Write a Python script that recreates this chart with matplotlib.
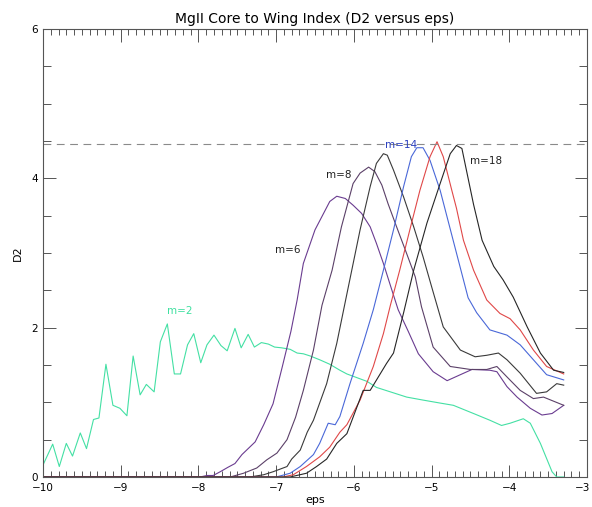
import matplotlib
matplotlib.use("Agg")
import matplotlib.pyplot as plt
from matplotlib.ticker import MultipleLocator, FuncFormatter

# ---------------- data ----------------
m2_eps = [-10.00, -9.875, -9.79, -9.70, -9.62, -9.52, -9.44, -9.35, -9.28, -9.19, -9.10, -9.01, -8.92,
          -8.84, -8.75, -8.67, -8.57, -8.49, -8.40, -8.31, -8.23, -8.14, -8.06, -7.97, -7.89, -7.80,
          -7.71, -7.63, -7.53, -7.45, -7.36, -7.28, -7.19, -7.10, -7.02, -6.93, -6.82, -6.73, -6.65,
          -6.56, -6.44, -6.31, -6.18, -6.09, -5.96, -5.83, -5.71, -5.53, -5.32, -5.11, -4.89, -4.72,
          -4.46, -4.25, -4.10, -3.99, -3.82, -3.73, -3.60, -3.45, -3.39, -3.30]
m2_d2 = [0.16, 0.44, 0.14, 0.45, 0.28, 0.59, 0.38, 0.77, 0.79, 1.51, 0.96, 0.92, 0.82,
         1.62, 1.10, 1.24, 1.14, 1.81, 2.05, 1.38, 1.38, 1.77, 1.92, 1.53, 1.77, 1.90,
         1.76, 1.69, 1.99, 1.73, 1.91, 1.74, 1.80, 1.78, 1.74, 1.73, 1.71, 1.66, 1.65,
         1.62, 1.57, 1.51, 1.43, 1.38, 1.33, 1.28, 1.20, 1.14, 1.07, 1.03, 0.99, 0.96,
         0.85, 0.76, 0.69, 0.72, 0.78, 0.72, 0.45, 0.07, 0.0, 0.0]

m6_eps = [-10.0, -7.98, -7.89, -7.81, -7.72, -7.62, -7.53, -7.44, -7.36, -7.27, -7.16, -7.04, -6.92,
          -6.81, -6.73, -6.65, -6.50, -6.39, -6.31, -6.22, -6.11, -6.01, -5.90, -5.79, -5.71, -5.62,
          -5.51, -5.43, -5.30, -5.17, -4.98, -4.80, -4.63, -4.48, -4.25, -4.16, -4.03, -3.90, -3.73,
          -3.58, -3.45, -3.30]
m6_d2 = [0.0, 0.0, 0.02, 0.02, 0.07, 0.13, 0.18, 0.30, 0.38, 0.47, 0.70, 0.98, 1.48,
         1.95, 2.37, 2.86, 3.31, 3.53, 3.69, 3.76, 3.73, 3.64, 3.53, 3.35, 3.13, 2.86,
         2.50, 2.24, 1.95, 1.65, 1.41, 1.29, 1.37, 1.44, 1.43, 1.41, 1.21, 1.07, 0.92,
         0.83, 0.85, 0.96]

m8_eps = [-10.0, -7.59, -7.42, -7.25, -7.12, -6.99, -6.86, -6.75, -6.65, -6.52, -6.41, -6.28, -6.16,
          -6.01, -5.92, -5.81, -5.73, -5.64, -5.56, -5.45, -5.32, -5.21, -5.13, -4.98, -4.76, -4.50,
          -4.29, -4.16, -4.03, -3.86, -3.69, -3.56, -3.30]
m8_d2 = [0.0, 0.0, 0.05, 0.12, 0.23, 0.32, 0.50, 0.80, 1.16, 1.70, 2.30, 2.77, 3.35,
         3.93, 4.07, 4.15, 4.09, 3.91, 3.66, 3.35, 2.99, 2.68, 2.28, 1.74, 1.48, 1.44,
         1.44, 1.48, 1.34, 1.16, 1.05, 1.07, 0.96]

m10_eps = [-10.0, -7.34, -7.16, -7.04, -6.86, -6.80, -6.69, -6.60, -6.52, -6.35, -6.22, -6.10, -5.92,
           -5.79, -5.71, -5.62, -5.57, -5.49, -5.36, -5.23, -5.11, -5.00, -4.85, -4.63, -4.44, -4.29,
           -4.14, -4.03, -3.86, -3.65, -3.52, -3.39, -3.30]
m10_d2 = [0.0, 0.0, 0.03, 0.07, 0.14, 0.24, 0.36, 0.60, 0.76, 1.25, 1.79, 2.40, 3.31,
          3.89, 4.20, 4.33, 4.31, 4.11, 3.75, 3.35, 2.95, 2.55, 2.01, 1.70, 1.61, 1.63,
          1.66, 1.57, 1.39, 1.12, 1.14, 1.25, 1.23]

m14_eps = [-10.0, -7.00, -6.82, -6.69, -6.52, -6.44, -6.33, -6.24, -6.18, -6.05, -5.88, -5.75, -5.62,
           -5.49, -5.36, -5.26, -5.19, -5.11, -5.02, -4.89, -4.76, -4.63, -4.53, -4.42, -4.25, -4.03,
           -3.86, -3.69, -3.52, -3.30]
m14_d2 = [0.0, 0.0, 0.05, 0.14, 0.30, 0.45, 0.72, 0.70, 0.81, 1.25, 1.79, 2.24, 2.77,
          3.31, 3.89, 4.29, 4.41, 4.41, 4.24, 3.84, 3.32, 2.80, 2.40, 2.20, 1.97, 1.90,
          1.77, 1.57, 1.37, 1.30]

m16_eps = [-10.0, -6.91, -6.78, -6.61, -6.44, -6.31, -6.18, -6.09, -5.92, -5.75, -5.62, -5.53, -5.41,
           -5.28, -5.15, -5.02, -4.93, -4.85, -4.74, -4.68, -4.59, -4.46, -4.29, -4.12, -3.99, -3.86,
           -3.69, -3.52, -3.30]
m16_d2 = [0.0, 0.0, 0.03, 0.14, 0.27, 0.40, 0.60, 0.70, 1.03, 1.48, 1.92, 2.30, 2.77,
          3.31, 3.84, 4.29, 4.49, 4.29, 3.84, 3.60, 3.17, 2.77, 2.37, 2.19, 2.12, 1.97,
          1.70, 1.48, 1.38]

m18_eps = [-10.0, -6.82, -6.61, -6.48, -6.35, -6.22, -6.09, -6.01, -5.88, -5.79, -5.58, -5.49, -5.36,
           -5.23, -5.06, -4.89, -4.76, -4.68, -4.61, -4.55, -4.46, -4.35, -4.20, -4.08, -3.95, -3.77,
           -3.60, -3.43, -3.30]
m18_d2 = [0.0, 0.0, 0.05, 0.14, 0.24, 0.45, 0.58, 0.80, 1.16, 1.16, 1.52, 1.66, 2.20,
          2.77, 3.40, 3.93, 4.33, 4.44, 4.40, 4.10, 3.65, 3.17, 2.82, 2.64, 2.41, 2.01,
          1.66, 1.43, 1.40]

threshold = 4.46

labels = ["m=2", "m=6", "m=8", "m=14", "m=18"]
label_pos = [(-8.24, 2.22), (-6.85, 3.04), (-6.20, 4.04), (-5.39, 4.44), (-4.30, 4.23)]
label_colors = ["#3fe0a0", "#222222", "#222222", "#2a3fbf", "#222222"]

x_min, x_max = -10, -3

# ---------------- figure ----------------
fig = plt.figure(figsize=(5.92, 5.07), dpi=100)
ax = fig.add_axes([0.0726, 0.0592, 0.9190, 0.8836])

lw = 0.8
ax.plot(m2_eps, m2_d2, color="#44e0a4", lw=lw)
ax.plot(m6_eps, m6_d2, color="#6a3c90", lw=lw)
ax.plot(m8_eps, m8_d2, color="#5b4068", lw=lw)
ax.plot(m10_eps, m10_d2, color="#3a3a3a", lw=lw)
ax.plot(m14_eps, m14_d2, color="#4a68d8", lw=lw)
ax.plot(m16_eps, m16_d2, color="#e04848", lw=lw)
ax.plot(m18_eps, m18_d2, color="#262626", lw=lw)

ax.axhline(threshold, color="#8a8a8a", lw=0.8, ls=(0, (7, 5)))

for t, (x, y), c in zip(labels, label_pos, label_colors):
    ax.text(x, y, t, color=c, fontsize=7.5, ha="center", va="center")

ax.set_xlim(x_min, x_max)
ax.set_ylim(0, 6)
ax.xaxis.set_major_locator(MultipleLocator(1))
ax.xaxis.set_minor_locator(MultipleLocator(0.1))
ax.yaxis.set_major_locator(MultipleLocator(2))
ax.yaxis.set_minor_locator(MultipleLocator(0.5))
# the last label (-3) is drawn separately so it stays inside the canvas
ax.xaxis.set_major_formatter(FuncFormatter(
    lambda v, p: "" if abs(v - x_max) < 1e-6 else "\u2212%d" % abs(round(v)) if v < 0 else "%d" % round(v)))
ax.tick_params(which="both", direction="in", top=True, right=True, labelsize=7.5,
               color="#555555", width=0.7)
ax.tick_params(which="major", length=9)
ax.tick_params(axis="x", which="minor", length=4)
ax.tick_params(axis="y", which="minor", length=6)
ax.tick_params(axis="x", pad=4)
for s in ax.spines.values():
    s.set_color("#555555")
    s.set_linewidth(0.8)

ax.annotate("\u2212%d" % abs(x_max), xy=(x_max, 0), xycoords=("data", "axes fraction"),
            xytext=(2.2, -4), textcoords="offset points", ha="right", va="top", fontsize=7.5)

ax.set_xlabel("eps", fontsize=8, labelpad=2)
ax.set_ylabel("D2", fontsize=8, labelpad=6)
ax.set_title("MgII Core to Wing Index (D2 versus eps)", fontsize=10, pad=4)

fig.savefig("out.png", dpi=100)
